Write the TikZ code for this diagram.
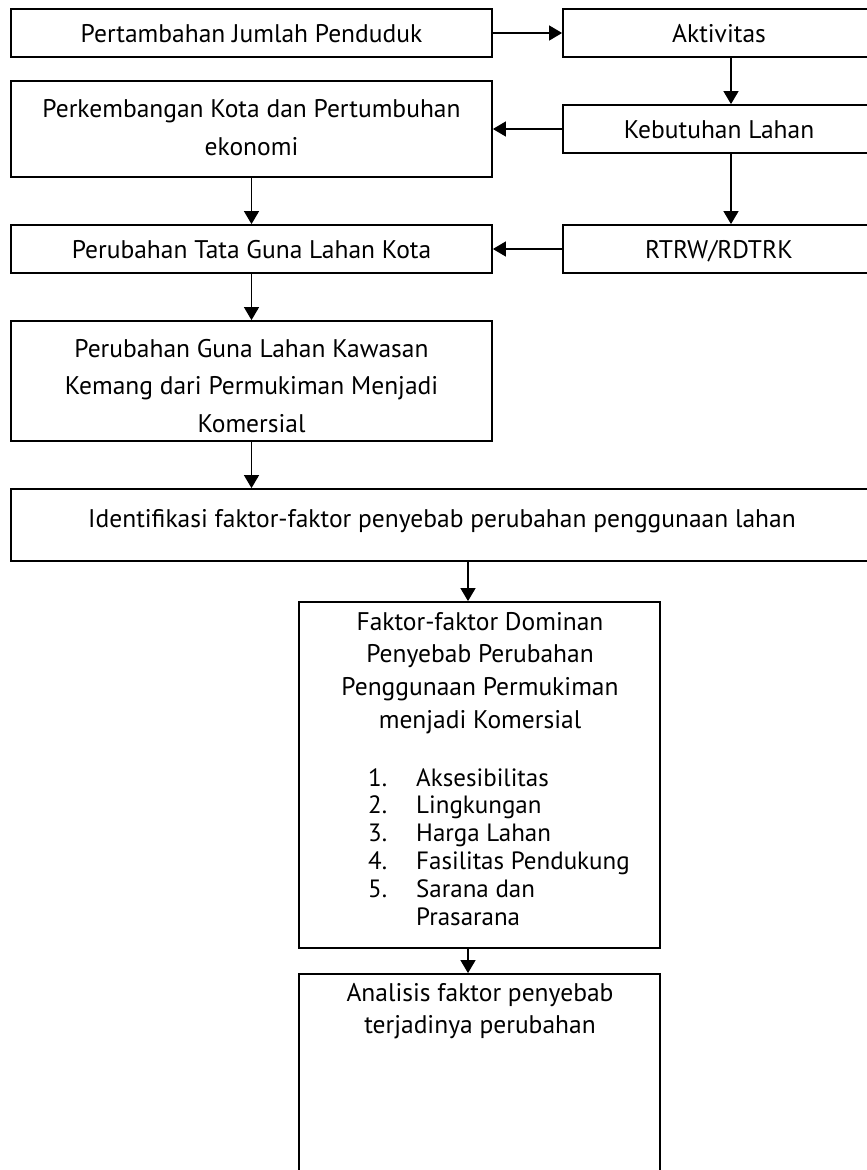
\documentclass[tikz,border=0pt]{standalone}
\usepackage{fontspec}
\setmainfont{PT Sans}
\usetikzlibrary{arrows.meta}
\begin{document}
\begin{tikzpicture}[x=1pt,y=-1pt,
  box/.style={draw, line width=1.8pt, inner sep=0pt},
  conn/.style={line width=1.3pt, -{Triangle[length=13pt,width=15pt]}},
  up/.style={font=\fontsize{25.5}{38}\selectfont, align=center, inner sep=0pt},
  one/.style={text height=18pt, text depth=0pt},
  low/.style={font=\fontsize{25.5}{32.7}\selectfont, align=center, inner sep=0pt},
  item/.style={font=\fontsize{25}{27.8}\selectfont, anchor=west, inner sep=0pt, text height=18pt, text depth=0pt}]
\useasboundingbox (0,0) rectangle (867,1170);
\clip (0,0) rectangle (867,1170);
% boxes
\node[box, minimum width=481pt, minimum height=48pt] (b1) at (251.5,33) {};
\node[box, minimum width=312pt, minimum height=48pt] (akt) at (719,33) {};
\node[box, minimum width=312pt, minimum height=48pt] (keb) at (719,129) {};
\node[box, minimum width=481pt, minimum height=96pt] (perk) at (251.5,129) {};
\node[box, minimum width=481pt, minimum height=48pt] (tata) at (251.5,249) {};
\node[box, minimum width=312pt, minimum height=48pt] (rtrw) at (719,249) {};
\node[box, minimum width=481pt, minimum height=120pt] (guna) at (251.5,381) {};
\node[box, minimum width=862pt, minimum height=72pt] (iden) at (442,525) {};
\node[box, minimum width=361pt, minimum height=346pt] (fak) at (479.5,775) {};
\node[box, minimum width=361pt, minimum height=211pt] (ana) at (479.5,1079.5) {};
% texts
\node[up, one] (t1) at (251.5,33) {Pertambahan Jumlah Penduduk};
\node[up, one] (t2) at (719,33) {Aktivitas};
\node[up, one] (t3) at (719,129) {Kebutuhan Lahan};
\node[up] (t4) at (251.5,128) {Perkembangan Kota dan Pertumbuhan\\ekonomi};
\node[up, one] (t5) at (251.5,249) {Perubahan Tata Guna Lahan Kota};
\node[up, one] (t6) at (719,249) {RTRW/RDTRK};
\begin{scope}
  \clip (11,321) rectangle (492,432);
  \node[up, font=\fontsize{25.5}{37.5}\selectfont] (t7) at (251.5,386) {Perubahan Guna Lahan Kawasan\\Kemang dari Permukiman Menjadi\\Komersial};
\end{scope}
\node[up, one] (t8) at (442,518) {Identifikasi faktor-faktor penyebab perubahan penggunaan lahan};
\node[low] (t9) at (480,673) {Faktor-faktor Dominan\\Penyebab Perubahan\\Penggunaan Permukiman\\menjadi Komersial};
\foreach \n/\t [count=\i from 0] in {1./Aksesibilitas, 2./Lingkungan, 3./Harga Lahan, 4./Fasilitas Pendukung, 5./Sarana dan} {
  \node[item] (n\i) at (368,777+27.8*\i) {\n};
  \node[item] (l\i) at (416,777+27.8*\i) {\t};
}
\node[item] (l5) at (416,916) {Prasarana};
\node[low] (t10) at (480,1011) {Analisis faktor penyebab\\terjadinya perubahan};
% connectors
\coordinate (fx) at (468,0);
\draw[conn] (b1.east) -- (akt.west);
\draw[conn] ([xshift=12pt]akt.south) -- ([xshift=12pt]keb.north);
\draw[conn] (keb.west) -- (perk.east);
\draw[conn] (perk.south) -- (tata.north);
\draw[conn] ([xshift=12pt]keb.south) -- ([xshift=12pt]rtrw.north);
\draw[conn] (rtrw.west) -- (tata.east);
\draw[conn] (tata.south) -- (guna.north);
\draw[conn] (guna.south) -- (guna.south |- iden.north);
\draw[conn] (iden.south -| fx) -- (fak.north -| fx);
\draw[conn] (fak.south -| fx) -- (ana.north -| fx);
\end{tikzpicture}
\end{document}
